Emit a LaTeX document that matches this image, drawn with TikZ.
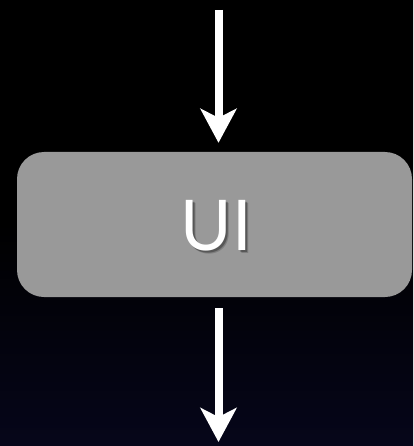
\documentclass[tikz,border=0pt]{standalone}
\usepackage{fontspec}
\setmainfont{Lato}
\usetikzlibrary{arrows.meta}
\definecolor{bgtop}{RGB}{0,0,0}
\definecolor{bgbottom}{RGB}{6,6,26}
\definecolor{boxgray}{RGB}{153,153,153}
\tikzset{
  flow/.style={draw=white, line width=8pt,
    -{Stealth[length=34pt,width=36pt,inset=9pt]}},
  layerbox/.style={fill=boxgray, draw=none, rounded corners=27pt,
    minimum width=395pt, minimum height=145pt, inner sep=0pt},
  layerlabel/.style={text=white, font=\fontsize{70}{70}\selectfont},
  labelshade/.style={text=black, font=\fontsize{70}{70}\selectfont}
}
\begin{document}
\begin{tikzpicture}[x=1pt,y=-1pt]
  % backdrop: black fading to deep navy
  \shade[top color=bgtop, bottom color=bgbottom, middle color=bgtop]
    (0,0) rectangle (413,446);
  \useasboundingbox (0,0) rectangle (413,446);
  \coordinate (in) at (218.5,10);
  \coordinate (out) at (218.5,442);
  % the layer box
  \node[layerbox] (ui) at (214.5,224.5) {};
  % soft drop shadow under the label
  \node[labelshade, opacity=0.18] at (219.5,229) {UI};
  \node[labelshade, opacity=0.3] at (218.5,228) {UI};
  \node[layerlabel] (uitext) at (216.5,226) {UI};
  % incoming and outgoing arrows
  \draw[flow, shorten >=9pt] (in) -- (ui.north -| in);
  \draw[flow, shorten <=11pt] (ui.south -| out) -- (out);
\end{tikzpicture}
\end{document}
